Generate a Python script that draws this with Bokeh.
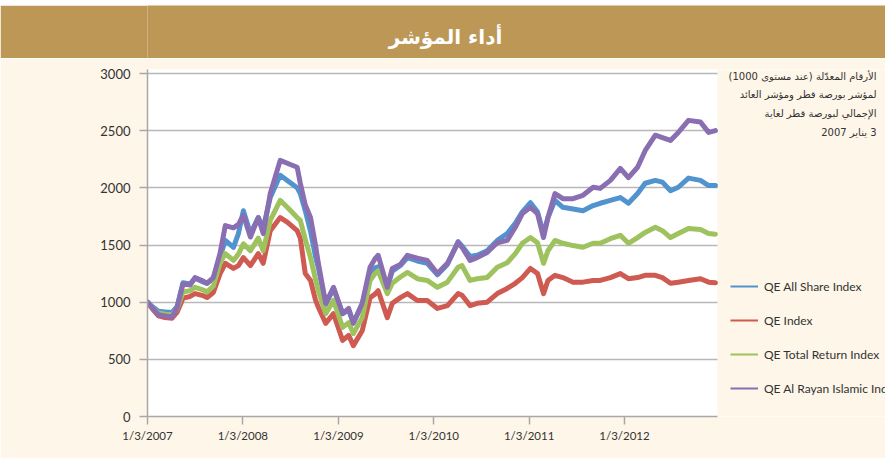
import pandas as pd
from bokeh.plotting import figure
from bokeh.models import (Range1d, FixedTicker, Legend, LegendItem, Label, ColumnDataSource,
                          BoxAnnotation, Spacer)
from bokeh.layouts import column
from bokeh.embed import file_html
from bokeh.resources import INLINE

# ---------------- data ----------------
dates = [
    "2007-01-03", "2007-01-22", "2007-02-14", "2007-03-11", "2007-04-07", "2007-04-26", "2007-05-19", "2007-06-15",
    "2007-07-04", "2007-07-31", "2007-08-19", "2007-09-12", "2007-10-08", "2007-10-28", "2007-11-28", "2007-12-17",
    "2008-01-05", "2008-02-01", "2008-03-02", "2008-03-21", "2008-04-17", "2008-05-25", "2008-06-21", "2008-07-29",
    "2008-08-10", "2008-08-29", "2008-09-18", "2008-10-07", "2008-10-18", "2008-11-15", "2008-12-15",
    "2009-01-19", "2009-02-11", "2009-03-01", "2009-04-04", "2009-05-04", "2009-05-23", "2009-06-04", "2009-07-09",
    "2009-07-28", "2009-08-28", "2009-09-24", "2009-11-01", "2009-12-09",
    "2010-01-17", "2010-02-24", "2010-04-06", "2010-04-21", "2010-05-22", "2010-06-18", "2010-07-26", "2010-09-03",
    "2010-10-11", "2010-11-11", "2010-12-08",
    "2011-01-08", "2011-02-04", "2011-02-27", "2011-03-16", "2011-04-12", "2011-05-12", "2011-06-20", "2011-07-28",
    "2011-09-05", "2011-10-02", "2011-11-10", "2011-12-18",
    "2012-01-18", "2012-02-22", "2012-03-22", "2012-04-30", "2012-05-27", "2012-06-27", "2012-07-27", "2012-09-04",
    "2012-10-20", "2012-11-20", "2012-12-16",
]

qe_all_share = [
    1000, 960, 920, 915, 910, 960, 1170, 1160, 1210, 1180, 1165, 1210, 1400, 1540, 1480, 1600,
    1800, 1600, 1740, 1650, 1915, 2110, 2065, 2000, 1950, 1800, 1620, 1400, 1300, 980, 1120,
    900, 930, 820, 980, 1260, 1300, 1310, 1130, 1270, 1320, 1390, 1360, 1340,
    1240, 1330, 1530, 1490, 1400, 1410, 1450, 1540, 1600, 1690, 1790,
    1870, 1790, 1600, 1740, 1890, 1830, 1815, 1800, 1845, 1865, 1890, 1915,
    1865, 1950, 2040, 2065, 2050, 1975, 2005, 2085, 2065, 2020, 2020,
]
qe_index = [
    1000, 940, 880, 865, 860, 910, 1035, 1050, 1075, 1060, 1040, 1085, 1250, 1340, 1295, 1320,
    1390, 1320, 1425, 1340, 1625, 1740, 1700, 1625, 1560, 1250, 1190, 1020, 955, 815, 900,
    665, 710, 620, 750, 1040, 1070, 1100, 865, 990, 1040, 1075, 1015, 1015,
    945, 970, 1075, 1060, 970, 990, 1000, 1075, 1120, 1165, 1215,
    1295, 1250, 1075, 1190, 1235, 1215, 1175, 1175, 1190, 1190, 1215, 1250,
    1205, 1215, 1235, 1235, 1215, 1165, 1175, 1190, 1205, 1175, 1170,
]
qe_total_return = [
    1000, 950, 905, 895, 890, 940, 1090, 1100, 1130, 1110, 1090, 1140, 1345, 1425, 1365, 1420,
    1510, 1450, 1560, 1450, 1715, 1890, 1830, 1740, 1715, 1550, 1390, 1200, 1100, 900, 1015,
    780, 820, 725, 865, 1190, 1250, 1275, 1075, 1165, 1220, 1260, 1205, 1190,
    1130, 1175, 1305, 1320, 1190, 1205, 1215, 1305, 1345, 1425, 1515,
    1565, 1520, 1340, 1450, 1540, 1515, 1495, 1480, 1515, 1515, 1555, 1585,
    1515, 1565, 1610, 1655, 1625, 1565, 1600, 1645, 1635, 1600, 1595,
]
qe_al_rayan = [
    1000, 950, 890, 880, 870, 950, 1160, 1150, 1215, 1190, 1165, 1215, 1430, 1670, 1650, 1680,
    1760, 1570, 1740, 1600, 1950, 2240, 2215, 2180, 2040, 1850, 1740, 1500, 1340, 990, 1130,
    900, 945, 815, 990, 1305, 1380, 1410, 1130, 1295, 1330, 1410, 1385, 1365,
    1250, 1340, 1520, 1480, 1365, 1390, 1435, 1520, 1540, 1655, 1775,
    1830, 1775, 1565, 1740, 1950, 1905, 1905, 1935, 2005, 1995, 2065, 2170,
    2090, 2180, 2325, 2460, 2440, 2415, 2485, 2590, 2575, 2485, 2500,
]

series_names = ["QE All Share Index", "QE Index", "QE Total Return Index", "QE Al Rayan Islamic Index"]
tick_years = [2007, 2008, 2009, 2010, 2011, 2012]
tick_labels = ["1/3/2007", "1/3/2008", "1/3/2009", "1/3/2010", "1/3/2011", "1/3/2012"]
y_ticks = [0, 500, 1000, 1500, 2000, 2500, 3000]

title_text = "أداء المؤشر"
note_lines = [
    "الأرقام المعدّلة (عند مستوى 1000)",
    "لمؤشر بورصة قطر ومؤشر العائد",
    "الإجمالي لبورصة قطر لغاية",
    "3 يناير 2007",
]

# ---------------- styling ----------------
GOLD = "#BC9756"
CREAM = "#FEF6E8"
colors = ["#5193CF", "#CF5A52", "#9DC25E", "#8A6EB2"]
LABEL_FONT = "Lato"
LEFT = 147          # frame left edge (px)
PLOT_W = 570        # width of the white plotting area (px)
FRAME_W = 885 - LEFT

source = ColumnDataSource(dict(
    date=pd.to_datetime(dates),
    s0=qe_all_share, s1=qe_index, s2=qe_total_return, s3=qe_al_rayan,
))

# ---------------- header band ----------------
h = figure(width=885, height=53, x_range=Range1d(0, 1), y_range=Range1d(0, 1),
           x_axis_location=None, y_axis_location=None, toolbar_location=None,
           output_backend="svg", min_border_top=0, min_border_bottom=0,
           min_border_left=LEFT, min_border_right=0)
h.background_fill_color = GOLD
h.border_fill_color = GOLD
h.outline_line_color = None
h.xgrid.grid_line_color = None
h.ygrid.grid_line_color = None
h.add_layout(Label(x=(445 - LEFT) / FRAME_W, y=1 - 31 / 53, text=title_text,
                   text_align="center", text_baseline="middle",
                   text_color="white", text_font="DejaVu Sans", text_font_style="bold",
                   text_font_size="20px"))

# ---------------- main chart ----------------
start = pd.Timestamp("2007-01-03")
data_end = pd.Timestamp("2012-12-24")
frame_end = start + (data_end - start) * (FRAME_W / PLOT_W)

p = figure(width=885, height=400, x_axis_type="datetime", toolbar_location=None,
           output_backend="svg", x_range=Range1d(start, frame_end), y_range=Range1d(0, 3035),
           min_border_left=LEFT, min_border_right=0, min_border_top=11, min_border_bottom=42)
p.background_fill_color = "white"
p.border_fill_color = CREAM
p.outline_line_color = None

# cream area to the right of the plotting area (covers grid lines there)
p.add_layout(BoxAnnotation(left=data_end, fill_color=CREAM, fill_alpha=1,
                           line_color=None, level="underlay"))

for i, key in enumerate(["s0", "s1", "s2", "s3"]):
    p.line("date", key, source=source, line_color=colors[i], line_width=5,
           line_join="round", line_cap="round")

# thin renderers (no visible data) that only provide the legend glyphs
nan = float("nan")
legend_src = ColumnDataSource(dict(date=[start, start], v=[nan, nan]))
legend_items = []
for i, name in enumerate(series_names):
    d = p.line("date", "v", source=legend_src, line_color=colors[i], line_width=2)
    legend_items.append(LegendItem(label=name, renderers=[d]))

legend = Legend(items=legend_items, location=(583, 18), orientation="vertical",
                spacing=14, glyph_height=20, label_height=20, glyph_width=28,
                label_standoff=6, padding=0, margin=0, border_line_color=None,
                background_fill_alpha=0, label_text_font=LABEL_FONT,
                label_text_font_size="12px", label_text_color="#333333")
p.add_layout(legend)

# x axis
tick_ms = [float(pd.Timestamp(f"{y}-01-03").value // 10**6) for y in tick_years]
p.xaxis.ticker = FixedTicker(ticks=tick_ms, minor_ticks=[])
p.xaxis.major_label_overrides = {t: lab for t, lab in zip(tick_ms, tick_labels)}
p.xaxis.bounds = (start, data_end)
p.xaxis.major_tick_out = 8
p.xaxis.major_tick_in = 0
p.xaxis.minor_tick_out = 0
p.xaxis.minor_tick_in = 0
p.xaxis.major_label_standoff = 4
p.xaxis.major_label_text_font = LABEL_FONT
p.xaxis.major_label_text_font_size = "11.5px"
p.xaxis.major_label_text_color = "#333333"
p.xaxis.axis_line_color = "#A8A8A8"
p.xaxis.axis_line_width = 1.5
p.xaxis.major_tick_line_color = "#A8A8A8"
p.xaxis.major_tick_line_width = 1.5

# y axis
p.yaxis.ticker = FixedTicker(ticks=y_ticks, minor_ticks=[])
p.yaxis.major_tick_out = 8
p.yaxis.major_tick_in = 0
p.yaxis.minor_tick_out = 0
p.yaxis.minor_tick_in = 0
p.yaxis.major_label_standoff = 9
p.yaxis.major_label_text_font = LABEL_FONT
p.yaxis.major_label_text_font_size = "13px"
p.yaxis.major_label_text_color = "#333333"
p.yaxis.axis_line_color = "#A8A8A8"
p.yaxis.axis_line_width = 1.5
p.yaxis.major_tick_line_color = "#A8A8A8"
p.yaxis.major_tick_line_width = 1.5

p.xgrid.grid_line_color = None
p.ygrid.grid_line_color = "#B8B8B8"
p.ygrid.grid_line_width = 1.5

# Arabic note at the top right (RTL embedding so bidi shows correctly)
note_y = [340, 322, 303, 284]
for line, yy in zip(note_lines, note_y):
    p.add_layout(Label(x=729, y=yy, x_units="screen", y_units="screen",
                       text="\u202B" + line + "\u202C", text_align="right", text_baseline="middle",
                       text_font="DejaVu Sans", text_font_size="10px", text_color="#333333"))

layout = column(Spacer(width=885, height=5), h, p, spacing=0)
open("out.html", "w").write(file_html(layout, INLINE))
